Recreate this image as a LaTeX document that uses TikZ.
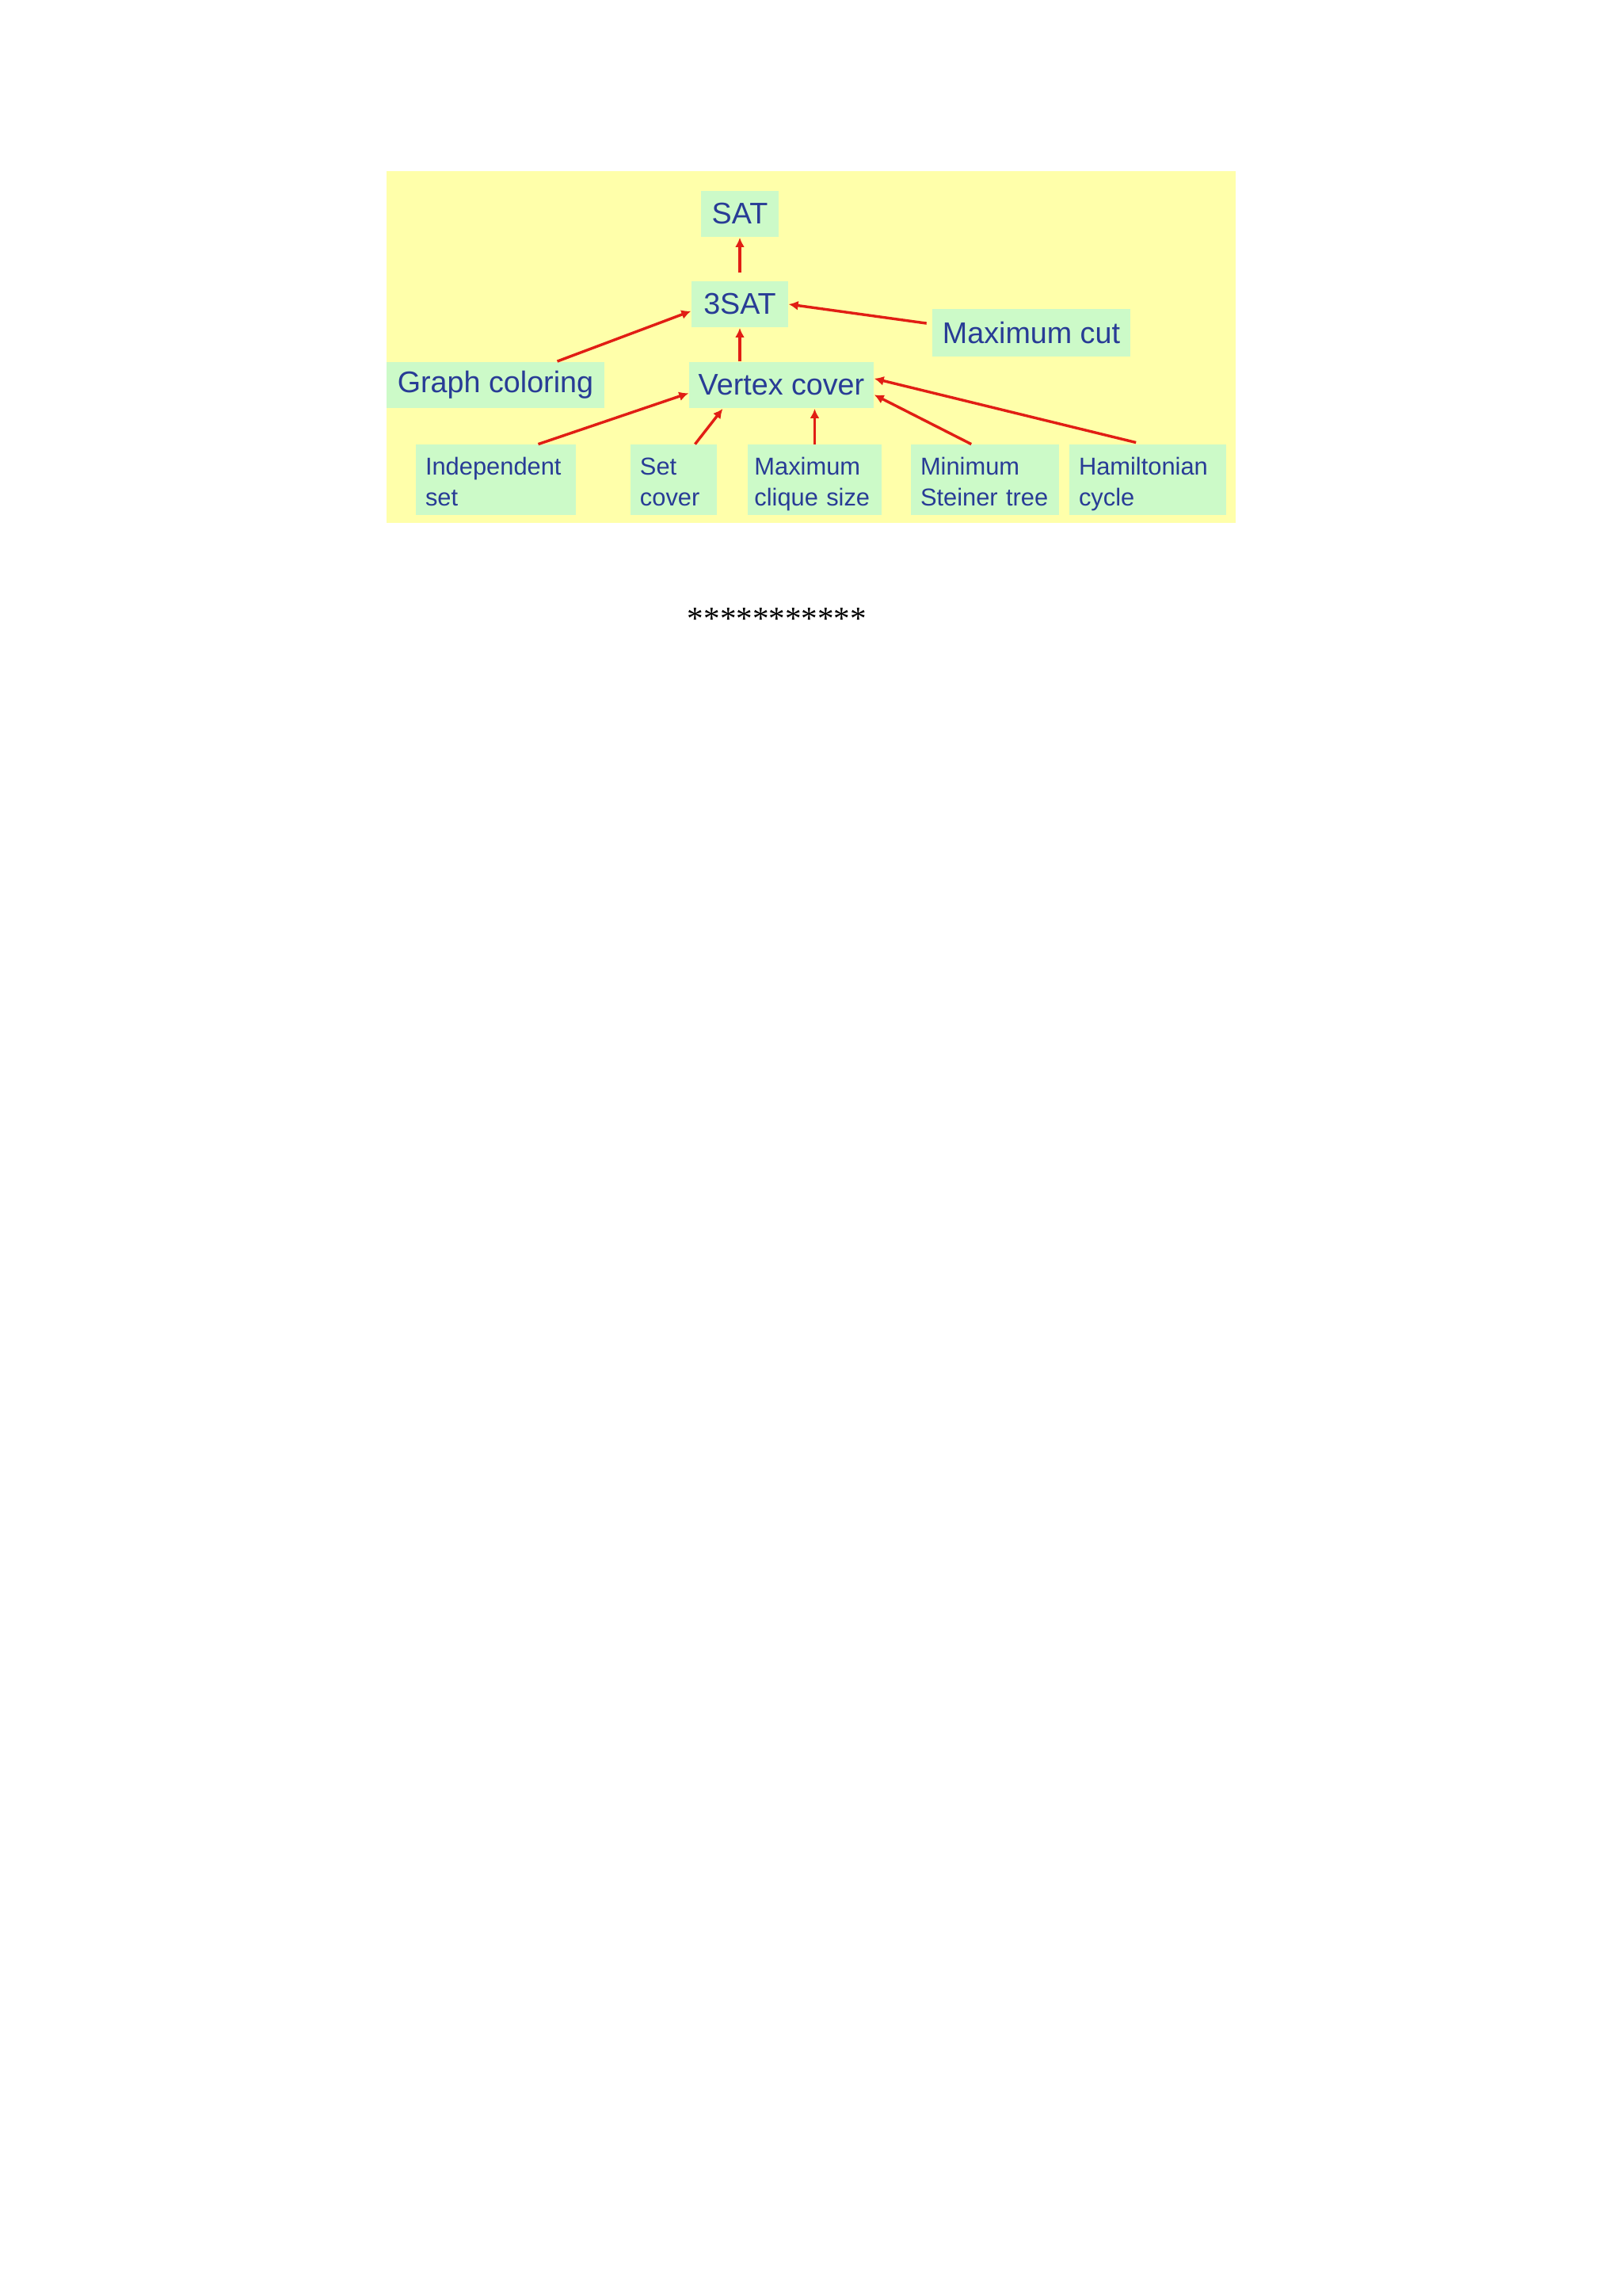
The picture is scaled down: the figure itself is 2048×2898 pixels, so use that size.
\documentclass[tikz,border=0pt]{standalone}
\usepackage{fontspec}
\newfontfamily\arialfont{Liberation Sans}
\newfontfamily\timesfont{Liberation Serif}
\usetikzlibrary{arrows.meta}
\definecolor{slideyellow}{RGB}{255,255,170}
\definecolor{boxgreen}{RGB}{204,250,200}
\definecolor{labelblue}{RGB}{40,60,150}
\definecolor{arrowred}{RGB}{225,30,20}
\begin{document}
\begin{tikzpicture}[x=0.010254cm,y=-0.010254cm,
    big/.style={fill=boxgreen,text=labelblue,font=\arialfont\fontsize{11}{13}\selectfont,minimum height=0.6cm,inner sep=0pt},
    small/.style={fill=boxgreen,text=labelblue,font=\arialfont\fontsize{9}{11.3}\selectfont,minimum height=0.89cm,inner xsep=0.123cm,inner ysep=0pt,align=left,execute at begin node=\rule{0pt}{11.1pt},execute at end node=\strut},
    arr/.style={draw=arrowred,line width=1pt,-{Latex[length=3.5pt,width=3.5pt]}}]
    \useasboundingbox (0,0) rectangle (2048,2898);
    \fill[slideyellow] (488,216) rectangle (1560,660);
    \node[big,minimum width=1.0cm] (sat) at (934,270) {SAT};
    \node[big,minimum width=1.25cm] (tsat) at (934,384) {3SAT};
    \node[big,minimum width=2.56cm,minimum height=0.62cm] (maxcut) at (1302,420) {Maximum cut};
    \node[big,minimum width=2.82cm] (gcol) at (625.5,486) {Graph coloring};
    \node[big,minimum width=2.39cm] (vcover) at (986.5,486) {Vertex cover};
    \node[small,text width=1.825cm] (indset) at (626,605.5) {Independent\\set};
    \node[small,text width=0.872cm] (setcov) at (850.5,605.5) {Set\\cover};
    \node[small,text width=1.56cm,inner xsep=0.09cm] (clique) at (1028.5,605.5) {Maximum\\clique~size};
    \node[small,text width=1.671cm] (steiner) at (1243.5,605.5) {Minimum\\Steiner tree};
    \node[small,text width=1.784cm] (hamil) at (1449,605.5) {Hamiltonian\\cycle};
    \draw[arr,shorten <=0.1cm] (tsat.north) -- (sat.south);
    \draw[arr] (tsat.south |- vcover.north) -- (tsat.south);
    \draw[arr] (gcol.21) -- (tsat.188);
    \draw[arr,shorten <=0.07cm] (maxcut.175) -- (tsat.east);
    \draw[arr] (indset.40) -- (vcover.185);
    \draw[arr] (setcov.59) -- (vcover.202);
    \draw[arr] (clique.north) -- (clique.north |- vcover.south);
    \draw[arr] (steiner.111) -- (vcover.-6);
    \draw[arr,shorten <=0.09cm] (hamil.98) -- (vcover.4);
    \node[anchor=base,font=\timesfont\fontsize{12}{14}\selectfont] (stars) at (981,794) {***********};
\end{tikzpicture}
\end{document}
